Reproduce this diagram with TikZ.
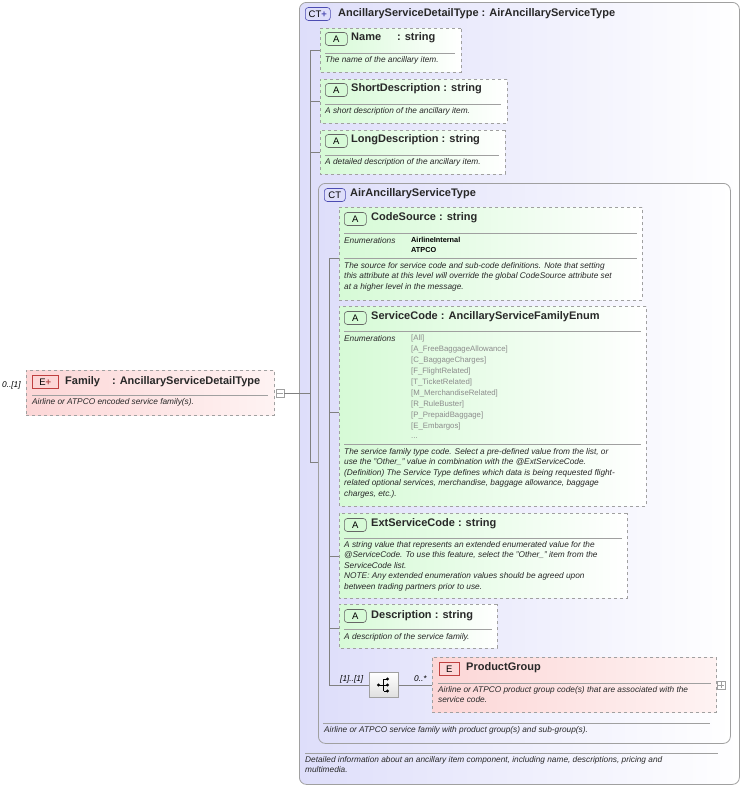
\documentclass[tikz,border=0pt]{standalone}
\usepackage{fontspec}
\setmainfont{Liberation Sans}
\usetikzlibrary{shapes.misc}
\definecolor{gfill}{RGB}{214,250,214}
\definecolor{rfill}{RGB}{252,214,214}
\definecolor{cfill}{RGB}{222,222,250}
\definecolor{bord}{RGB}{160,160,160}
\definecolor{dtext}{RGB}{40,40,40}
\definecolor{etext}{RGB}{140,140,140}
\tikzset{
 box/.style={draw=bord, dashed, line width=0.8pt, inner sep=0pt, anchor=north west},
 attr/.style={box, chamfered rectangle, chamfered rectangle corners={north west,south west}, chamfered rectangle xsep=6pt, chamfered rectangle ysep=6pt, left color=gfill, right color=white},
 elem/.style={box, rectangle, left color=rfill, right color=rfill!30},
 ct/.style={draw=bord, line width=0.8pt, rounded corners=7pt, left color=cfill, right color=white, anchor=north west, inner sep=0pt},
 ttl/.style={font=\fontsize{11}{12}\selectfont\bfseries, text=dtext, anchor=west, inner sep=0pt},
 dsc/.style={font=\fontsize{8.3}{10.5}\selectfont\itshape, text=dtext, anchor=north west, inner sep=0pt, align=left},
 en/.style={font=\fontsize{7.8}{10.9}\selectfont, text=etext, anchor=north west, inner sep=0pt, align=left},
 sep/.style={draw=bord, line width=0.6pt},
 conn/.style={draw=bord!80!black, line width=0.6pt},
 badge/.style={draw=gray!80!black, line width=0.6pt, font=\fontsize{9.5}{10}\selectfont, inner sep=0pt, minimum height=13pt, anchor=west},
}
\newcommand{\mkbox}[6]{\node[#6, minimum width={#4-#2}, minimum height={#5-#3}] (#1) at (#2,#3) {};}
\begin{document}
\begin{tikzpicture}[x=1pt,y=-1pt]
\useasboundingbox (0,0) rectangle (742,787);
% outer CT
\mkbox{outer}{299}{2}{739}{784}{ct}
\node[badge, draw=blue!40!gray, fill=cfill, rounded corners=3pt, minimum width=25pt] (ctb1) at (305,14) {CT\textcolor{blue!40!gray}{\bfseries+}};
\node[ttl] (t1) at (338,14) {AncillaryServiceDetailType : AirAncillaryServiceType};
\draw[sep] (305,753) -- (718,753);
\node[dsc] (d1) at (305,756) {Detailed information about an ancillary item component, including name, descriptions, pricing and\\multimedia.};
% Family
\node[font=\fontsize{8.3}{10}\selectfont\itshape, anchor=west, inner sep=0] (fm) at (2,385) {0..[1]};
\mkbox{family}{26}{370}{274}{415}{elem}
\node[badge, draw=red!50!gray, fill=rfill, minimum width=26pt] (fb) at (32,382) {E\textcolor{red!40!gray}{\bfseries+}};
\node[ttl] (ft) at (65,382) {Family\hspace{12pt}: AncillaryServiceDetailType};
\draw[sep] (32,395) -- (268,395);
\node[dsc] (fd) at (32,398) {Airline or ATPCO encoded service family(s).};
\node[draw=bord, fill=white, minimum size=8pt, inner sep=0] (minus) at (280,393) {};
\draw[bord] (277,393) -- (283,393);
% top level connectors
\coordinate (v1) at (310,50);
\coordinate (v2) at (310,462);
\draw[conn] (minus.east) -- (310,393);
\draw[conn] (v1) -- (v2);
% attributes level 1
\mkbox{name}{320}{28}{461}{72}{attr}
\mkbox{short}{320}{79}{507}{123}{attr}
\mkbox{long}{320}{130}{505}{174}{attr}
\foreach \n/\y/\t/\d/\r in {name/28/{Name\hspace{16pt}: string}/{The name of the ancillary item.}/455,
  short/79/{ShortDescription : string}/{A short description of the ancillary item.}/501,
  long/130/{LongDescription : string}/{A detailed description of the ancillary item.}/499}{
  \node[badge, fill=gfill, rounded corners=3pt, minimum width=22pt] (\n b) at (325,\y+11) {A};
  \node[ttl] (\n t) at (351,\y+10) {\t};
  \draw[sep] (325,\y+25) -- (\r,\y+25);
  \node[dsc] (\n d) at (325,\y+28) {\d};
  \draw[conn] (310,\y+22) -- (\n.west |- 0,\y+22);
}
% inner CT
\mkbox{inner}{318}{183}{730}{743}{ct}
\draw[conn] (v2) -- (inner.west |- v2);
\node[badge, draw=blue!40!gray, fill=cfill, rounded corners=3pt, minimum width=21pt] (ctb2) at (324,195) {CT};
\node[ttl] (t2) at (350,194) {AirAncillaryServiceType};
\draw[sep] (323,723) -- (710,723);
\node[dsc] (d2) at (324,726) {Airline or ATPCO service family with product group(s) and sub-group(s).};
% inner connectors
\coordinate (w1) at (329,258);
\coordinate (w2) at (329,685);
\draw[conn] (w1) -- (w2);
% CodeSource
\mkbox{cs}{339}{207}{642}{300}{attr}
\node[badge, fill=gfill, rounded corners=3pt, minimum width=22pt] (csb) at (344,219) {A};
\node[ttl] (cst) at (371,218) {CodeSource : string};
\draw[sep] (344,233) -- (637,233);
\node[dsc] (cse) at (344,237) {Enumerations};
\node[en, text=black, font=\fontsize{7.3}{10}\selectfont\bfseries] (csv) at (411,237) {AirlineInternal\\ATPCO};
\draw[sep] (344,258) -- (637,258);
\node[dsc] (csd) at (344,262) {The source for service code and sub-code definitions. Note that setting\\this attribute at this level will override the global CodeSource attribute set\\at a higher level in the message.};
\draw[conn] (w1) -- (cs.west |- w1);
% ServiceCode
\mkbox{sc}{339}{306}{646}{506}{attr}
\node[badge, fill=gfill, rounded corners=3pt, minimum width=22pt] (scb) at (344,318) {A};
\node[ttl] (sct) at (371,317) {ServiceCode : AncillaryServiceFamilyEnum};
\draw[sep] (344,331) -- (641,331);
\node[dsc] (sce) at (344,335) {Enumerations};
\node[en] (scv) at (411,335) {{[All]}\\{[A\_FreeBaggageAllowance]}\\{[C\_BaggageCharges]}\\{[F\_FlightRelated]}\\{[T\_TicketRelated]}\\{[M\_MerchandiseRelated]}\\{[R\_RuleBuster]}\\{[P\_PrepaidBaggage]}\\{[E\_Embargos]}\\...};
\draw[sep] (344,444) -- (641,444);
\node[dsc] (scd) at (344,448) {The service family type code. Select a pre-defined value from the list, or\\use the ''Other\_'' value in combination with the @ExtServiceCode.\\(Definition) The Service Type defines which data is being requested flight-\\related optional services, merchandise, baggage allowance, baggage\\charges, etc.).};
\draw[conn] (329,412) -- (sc.west |- 0,412);
% ExtServiceCode
\mkbox{ext}{339}{513}{627}{598}{attr}
\node[badge, fill=gfill, rounded corners=3pt, minimum width=22pt] (extb) at (344,525) {A};
\node[ttl] (extt) at (371,524) {ExtServiceCode : string};
\draw[sep] (344,538) -- (622,538);
\node[dsc] (extd) at (344,541) {A string value that represents an extended enumerated value for the\\@ServiceCode. To use this feature, select the ''Other\_'' item from the\\ServiceCode list.\\NOTE: Any extended enumeration values should be agreed upon\\between trading partners prior to use.};
\draw[conn] (329,556) -- (ext.west |- 0,556);
% Description
\mkbox{desc}{339}{604}{497}{648}{attr}
\node[badge, fill=gfill, rounded corners=3pt, minimum width=22pt] (descb) at (344,616) {A};
\node[ttl] (desct) at (371,616) {Description : string};
\draw[sep] (344,629) -- (492,629);
\node[dsc] (descd) at (344,633) {A description of the service family.};
\draw[conn] (329,628) -- (desc.west |- 0,628);
% sequence
\node[draw=bord, line width=0.8pt, top color=white, bottom color=gray!25, minimum width=29pt, minimum height=25pt, inner sep=0, anchor=north west] (seq) at (369,672) {};
\draw[conn] (w2) -- (seq.west |- w2);
\begin{scope}[shift={(383.5,685)}]
 \draw[black, line width=0.6pt] (-5,0) -- (0,0) (0,-6) -- (0,6) (0,-6) -- (4,-6) (0,0) -- (4,0) (0,6) -- (4,6);
 \fill[black] (-5,0) circle (1.6) (4,-6) circle (1.6) (4,0) circle (1.6) (4,6) circle (1.6);
\end{scope}
\node[font=\fontsize{8.3}{10}\selectfont\itshape, anchor=west, inner sep=0] (m1) at (340,679) {[1]..[1]};
\node[font=\fontsize{8.3}{10}\selectfont\itshape, anchor=west, inner sep=0] (m2) at (414,679) {0..*};
% ProductGroup
\mkbox{pg}{432}{657}{716}{712}{elem}
\draw[conn] (seq.east) -- (pg.west |- seq.east);
\node[badge, draw=red!50!gray, fill=rfill, minimum width=20pt] (pgb) at (439,669) {E};
\node[ttl] (pgt) at (466,668) {ProductGroup};
\draw[sep] (438,683) -- (711,683);
\node[dsc] (pgd) at (438,686) {Airline or ATPCO product group code(s) that are associated with the\\service code.};
\node[draw=bord, fill=white, minimum size=8pt, inner sep=0] (plus) at (721,685) {};
\draw[bord] (718,685) -- (724,685) (721,682) -- (721,688);
\end{tikzpicture}
\end{document}
